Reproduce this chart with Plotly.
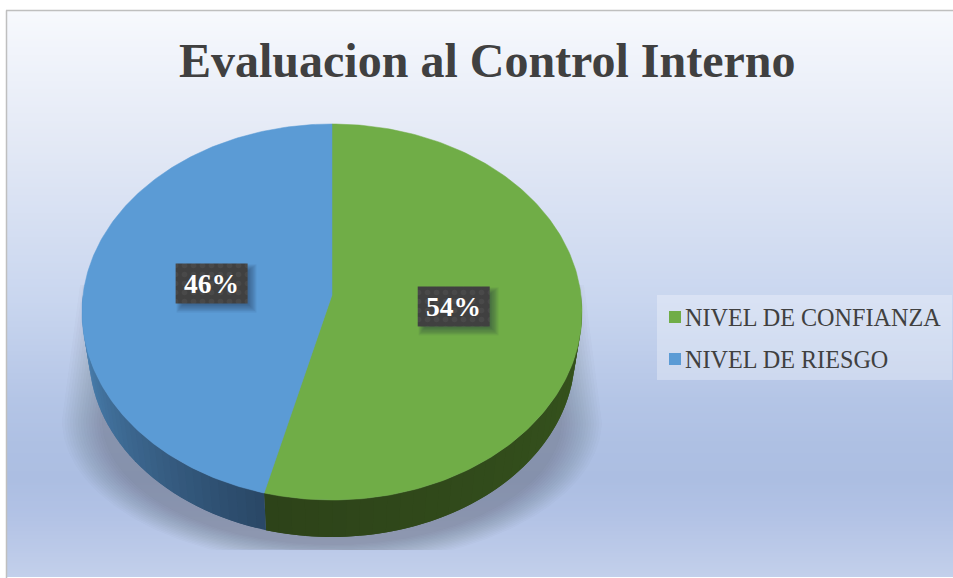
import numpy as np
import plotly.graph_objects as go

TITLE = "Evaluacion al Control Interno"
categories = ["NIVEL DE CONFIANZA", "NIVEL DE RIESGO"]
values = [54, 46]
top_colors = ["#70ad47", "#5b9bd5"]
side_dark = [("#36541d", "#2d4319"), ("#2a4867", "#4f88ba")]

W, H = 953, 578
CX, CY, A, B, K = 332, 295, 249, 186.5, 0.0905
SIDE_CY, SIDE_S = 337.7, 0.972


def project(theta, r=1.0, cy=CY, s=1.0):
    u, v = r * np.sin(theta), r * np.cos(theta)
    w = 1 + K * v
    return CX + s * A * u / w, cy - s * B * v / w


def hex2rgb(c):
    return np.array([int(c[i:i + 2], 16) for i in (1, 3, 5)], float)


def mix(c1, c2, t):
    r = hex2rgb(c1) * (1 - t) + hex2rgb(c2) * t
    return "rgb(%d,%d,%d)" % tuple(r.round())


fig = go.Figure()

# background gradient
stops = [(11, "#f7f9fd"), (150, "#e2e8f5"), (300, "#c9d6ef"), (400, "#b4c5e6"), (445, "#aec0e3"), (480, "#acbee2"),
         (515, "#b2c2e5"), (578, "#c3d0eb")]
edges = np.arange(11, 579, 2.0)
mids = (edges[:-1] + edges[1:]) / 2
cs = [[(y - 11) / 567, c] for y, c in stops]
fig.add_trace(go.Heatmap(x=[7, W], y=edges, z=mids[:, None], colorscale=cs, zmin=11, zmax=578,
                         showscale=False, hoverinfo="skip"))

# soft shadow beneath the pie: straight flanks above, rounded below, cut off at y=550
t = np.linspace(0, np.pi, 160)
for i in range(16):
    f = i / 15
    rx, ry = 270 - 40 * f, 145 - 20 * f
    top = rx - 18
    sx = np.r_[CX + top, CX + rx * np.cos(t), CX - top, CX + top]
    sy = np.r_[285, np.minimum(420 + ry * np.sin(t), 550), 285, 285]
    fig.add_trace(go.Scatter(x=sx, y=sy, mode="lines", line=dict(width=0), fill="toself",
                             fillcolor="rgba(52,63,68,0.02)", hoverinfo="skip", showlegend=False))

# slices
fracs = np.array(values, float) / sum(values)
ends = np.cumsum(fracs) * 2 * np.pi
starts = ends - fracs * 2 * np.pi

# side wall (only the front, angle between 90 and 270 degrees)
for k in range(len(values)):
    a0, a1 = max(starts[k], np.pi / 2), min(ends[k], 3 * np.pi / 2)
    edge = np.linspace(a0, a1, 37)
    for j in range(36):
        stop = edge[min(j + 2, 36)]
        g = np.linspace(edge[j], stop, 5)
        x1, y1 = project(g)
        x2, y2 = project(g[::-1], cy=SIDE_CY, s=SIDE_S)
        col = mix(side_dark[k][0], side_dark[k][1], j / 35)
        fig.add_trace(go.Scatter(x=np.r_[x1, x2], y=np.r_[y1, y2], mode="lines", fill="toself", fillcolor=col,
                                 line=dict(width=0), hoverinfo="skip", showlegend=False))

# top face
for k in range(len(values)):
    g = np.linspace(starts[k], ends[k], 200)
    x, y = project(g)
    fig.add_trace(go.Scatter(x=np.r_[CX, x, CX], y=np.r_[CY, y, CY], mode="lines", fill="toself",
                             fillcolor=top_colors[k], line=dict(width=0.5, color=top_colors[k]),
                             name=categories[k], hoverinfo="skip", showlegend=False))

# data labels
for k in range(len(values)):
    lx, ly = project((starts[k] + ends[k]) / 2, r=0.49)
    bw, bh = 36, 20
    for i in range(7):
        p = 1 + i * 1.3
        q = 7 - i
        x0, x1, y0, y1 = lx - bw + q, lx + bw + p, ly - bh + q, ly + bh + p
        fig.add_trace(go.Scatter(x=[x0, x1, x1, x0, x0], y=[y0, y0, y1, y1, y0], mode="lines", line=dict(width=0),
                                 fill="toself", fillcolor="rgba(20,40,60,0.08)", hoverinfo="skip", showlegend=False))
    fig.add_trace(go.Scatter(x=[lx - bw, lx + bw, lx + bw, lx - bw, lx - bw],
                             y=[ly - bh, ly - bh, ly + bh, ly + bh, ly - bh],
                             mode="lines", line=dict(width=0), fill="toself", fillcolor="#404040",
                             fillpattern=dict(shape=".", bgcolor="#404040", fgcolor="#525252", size=9, solidity=0.3),
                             hoverinfo="skip", showlegend=False))
    fig.add_annotation(x=lx, y=ly, text="<b>%d%%</b>" % values[k], showarrow=False,
                       font=dict(family="Liberation Serif", size=27.5, color="white"))

# legend
fig.add_trace(go.Scatter(x=[657, 952, 952, 657, 657], y=[295, 295, 380, 380, 295], mode="lines", line=dict(width=0),
                         fill="toself", fillcolor="rgba(255,255,255,0.3)", hoverinfo="skip", showlegend=False))
for k, yy in enumerate([317, 359]):
    fig.add_trace(go.Scatter(x=[675], y=[yy], mode="markers", marker=dict(symbol="square", size=12, color=top_colors[k], line_width=0),
                             name=categories[k], hoverinfo="skip", showlegend=False))
    fig.add_annotation(x=683, y=yy, text=categories[k], showarrow=False, xanchor="left", yanchor="middle",
                       font=dict(family="Liberation Serif", size=24.2, color="#404040"))

# title
fig.add_annotation(x=487.5, y=60, text="<b>%s</b>" % TITLE, showarrow=False,
                   font=dict(family="Liberation Serif", size=48, color="#404040"))

# frame
fig.add_shape(type="line", x0=6.5, x1=6.5, y0=10.5, y1=H, line=dict(color="#bfbfbf", width=1.5), layer="above")
fig.add_shape(type="line", x0=6, x1=W, y0=10.5, y1=10.5, line=dict(color="#bfbfbf", width=1.5), layer="above")

fig.update_layout(width=W, height=H, margin=dict(l=0, r=0, t=0, b=0), paper_bgcolor="white", plot_bgcolor="white",
                  showlegend=False,
                  xaxis=dict(range=[0, W], visible=False, fixedrange=True),
                  yaxis=dict(range=[H, 0], visible=False, fixedrange=True))
fig.write_html("out.html", config={"displayModeBar": False},
               post_script="document.body.style.margin='0';document.body.style.overflow='hidden';")
